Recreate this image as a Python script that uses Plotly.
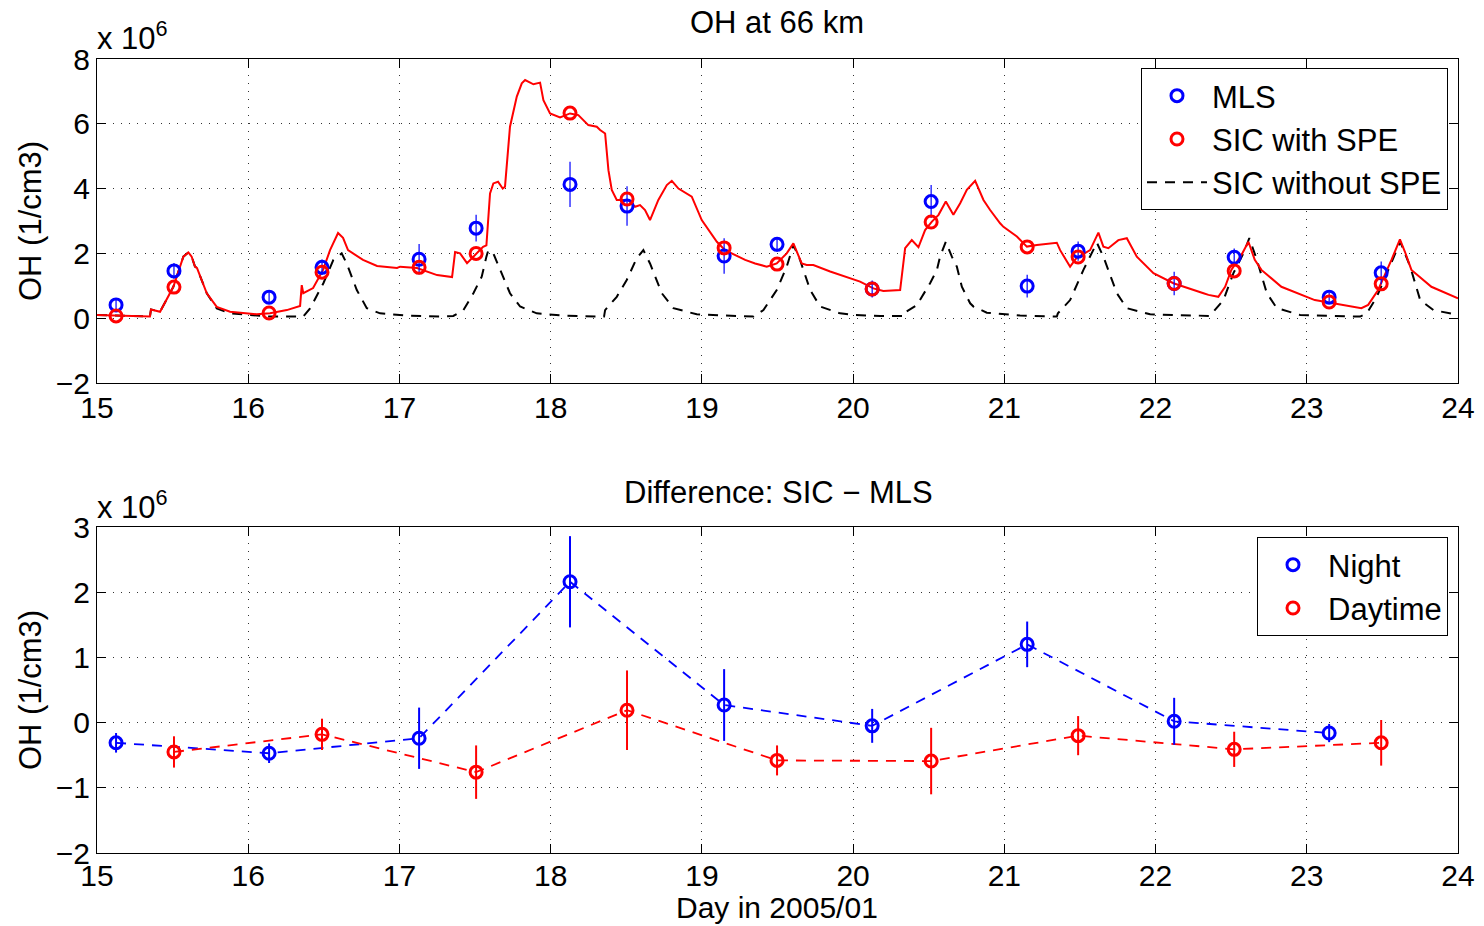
import plotly.graph_objects as go

W, H = 1484, 926
FONT = "Liberation Sans, Arial, Helvetica, sans-serif"
BLUE = "rgb(0,0,255)"
RED = "rgb(255,0,0)"

# ---- MLS overpasses (units: 1e6 / cm3) ----
night_days = [15.126, 16.138, 17.130, 18.128, 19.147, 20.126, 21.151, 22.123, 23.148]
day_days = [15.509, 16.488, 17.507, 18.505, 19.497, 20.516, 21.488, 22.520, 23.492]

mls_night = [0.41, 0.65, 1.82, 4.13, 1.92, 0.90, 0.99, 1.07, 0.65]
mls_day = [1.46, 1.57, 2.78, 3.46, 2.28, 3.60, 2.07, 1.88, 1.40]
err_night = [0.15, 0.15, 0.47, 0.70, 0.55, 0.26, 0.35, 0.36, 0.14]
err_day = [0.24, 0.24, 0.41, 0.61, 0.23, 0.51, 0.30, 0.27, 0.35]

# SIC values sampled at the MLS overpass times
sic_night = [0.07, 0.16, 1.57, 6.33, 2.17, 0.90, 2.20, 1.07, 0.50]
sic_day = [0.96, 1.42, 2.00, 3.68, 1.67, 2.97, 1.89, 1.46, 1.06]

# SIC - MLS differences
diff_night = [-0.31, -0.47, -0.24, 2.16, 0.27, -0.05, 1.20, 0.02, -0.16]
diff_day = [-0.45, -0.18, -0.76, 0.19, -0.58, -0.59, -0.20, -0.41, -0.31]

# ---- SIC model time series with SPE forcing ----
spe_days = [15.000, 15.350, 15.357, 15.417, 15.505, 15.571, 15.604, 15.626, 15.648, 15.661,
            15.726, 15.792, 15.880, 16.056, 16.144, 16.255, 16.343, 16.354, 16.364, 16.429,
            16.495, 16.541, 16.594, 16.627, 16.660, 16.693, 16.759, 16.852, 16.984, 17.004,
            17.116, 17.249, 17.348, 17.368, 17.401, 17.447, 17.513, 17.553, 17.575, 17.599,
            17.621, 17.652, 17.683, 17.698, 17.731, 17.776, 17.809, 17.831, 17.886, 17.930,
            17.952, 17.996, 18.062, 18.128, 18.183, 18.249, 18.305, 18.327, 18.360, 18.364,
            18.382, 18.404, 18.437, 18.514, 18.558, 18.591, 18.624, 18.657, 18.712, 18.768,
            18.801, 18.845, 18.933, 18.999, 19.043, 19.099, 19.153, 19.198, 19.286, 19.352,
            19.396, 19.429, 19.495, 19.561, 19.605, 19.638, 19.660, 19.693, 19.737, 19.848,
            19.958, 20.046, 20.134, 20.200, 20.311, 20.344, 20.388, 20.432, 20.476, 20.521,
            20.565, 20.613, 20.663, 20.708, 20.752, 20.807, 20.862, 20.906, 20.972, 20.994,
            21.083, 21.149, 21.215, 21.347, 21.369, 21.435, 21.476, 21.567, 21.622, 21.655,
            21.688, 21.754, 21.810, 21.876, 21.986, 22.118, 22.317, 22.350, 22.415, 22.460,
            22.501, 22.568, 22.614, 22.656, 22.700, 22.832, 23.053, 23.361, 23.406, 23.472,
            23.560, 23.616, 23.649, 23.692, 23.824, 24.000]
spe_oh = [0.10, 0.05, 0.27, 0.20, 0.97, 1.90, 2.03, 1.90, 1.59, 1.55,
          0.77, 0.35, 0.20, 0.12, 0.15, 0.25, 0.38, 1.02, 0.77, 0.93,
          1.49, 2.10, 2.63, 2.48, 2.10, 2.00, 1.80, 1.61, 1.55, 1.59,
          1.55, 1.33, 1.27, 2.04, 2.00, 1.70, 2.00, 2.20, 2.25, 3.85,
          4.16, 4.21, 4.00, 4.06, 5.91, 6.84, 7.25, 7.35, 7.22, 7.27,
          6.73, 6.32, 6.20, 6.32, 6.27, 5.96, 5.91, 5.81, 5.70, 5.50,
          4.57, 3.96, 3.65, 3.65, 3.44, 3.49, 3.34, 3.03, 3.65, 4.11,
          4.24, 4.00, 3.75, 3.03, 2.72, 2.36, 2.10, 2.00, 1.80, 1.69,
          1.64, 1.59, 1.69, 2.00, 2.31, 1.95, 1.69, 1.64, 1.64, 1.44,
          1.28, 1.13, 0.92, 0.84, 0.87, 2.16, 2.41, 2.19, 2.72, 2.98,
          3.19, 3.60, 3.19, 3.55, 3.96, 4.24, 3.65, 3.34, 2.93, 2.82,
          2.52, 2.21, 2.26, 2.33, 2.10, 1.59, 1.85, 2.10, 2.64, 2.21,
          2.16, 2.41, 2.47, 1.90, 1.39, 1.08, 0.77, 0.72, 0.66, 0.97,
          1.49, 1.95, 2.36, 1.80, 1.49, 0.97, 0.56, 0.31, 0.41, 0.87,
          1.80, 2.43, 2.05, 1.49, 0.97, 0.61]

# ---- SIC model time series without SPE forcing ----
nospe_days = [15.000, 15.350, 15.357, 15.417, 15.505, 15.571, 15.604, 15.626, 15.648, 15.661,
              15.726, 15.792, 15.880, 16.056, 16.144, 16.343, 16.364, 16.409, 16.497, 16.563,
              16.618, 16.651, 16.718, 16.784, 16.872, 17.048, 17.268, 17.356, 17.423, 17.489,
              17.544, 17.575, 17.588, 17.621, 17.677, 17.731, 17.798, 17.908, 18.084, 18.282,
              18.353, 18.360, 18.437, 18.503, 18.569, 18.613, 18.657, 18.735, 18.812, 18.966,
              19.187, 19.341, 19.407, 19.495, 19.561, 19.605, 19.649, 19.716, 19.782, 19.914,
              20.002, 20.134, 20.179, 20.344, 20.352, 20.421, 20.509, 20.554, 20.575, 20.613,
              20.653, 20.686, 20.719, 20.774, 20.796, 20.884, 21.104, 21.347, 21.354, 21.435,
              21.523, 21.612, 21.655, 21.744, 21.810, 21.964, 22.361, 22.383, 22.449, 22.515,
              22.581, 22.620, 22.670, 22.736, 22.802, 22.956, 23.353, 23.397, 23.463, 23.530,
              23.618, 23.684, 23.750, 23.838, 24.000]
nospe_oh = [0.10, 0.05, 0.27, 0.20, 0.97, 1.90, 2.03, 1.90, 1.59, 1.55,
            0.77, 0.30, 0.15, 0.07, 0.05, 0.05, 0.05, 0.30, 1.08, 1.80,
            2.00, 1.69, 0.87, 0.31, 0.15, 0.08, 0.05, 0.07, 0.25, 0.77,
            1.28, 1.90, 2.10, 2.00, 1.39, 0.77, 0.36, 0.15, 0.08, 0.05,
            0.05, 0.25, 0.66, 1.18, 1.85, 2.10, 1.69, 0.77, 0.31, 0.12,
            0.07, 0.05, 0.25, 0.87, 1.59, 2.26, 1.80, 0.87, 0.36, 0.15,
            0.10, 0.07, 0.07, 0.07, 0.20, 0.40, 1.08, 1.49, 1.90, 2.36,
            1.90, 1.59, 0.97, 0.46, 0.36, 0.17, 0.08, 0.05, 0.15, 0.56,
            1.49, 2.33, 1.90, 0.77, 0.31, 0.12, 0.07, 0.20, 0.56, 1.39,
            2.00, 2.47, 1.80, 0.77, 0.31, 0.10, 0.05, 0.15, 0.66, 1.39,
            2.36, 1.59, 0.56, 0.25, 0.10]

x_ticks = list(range(15, 25))
top_yticks = [-2, 0, 2, 4, 6, 8]
bot_yticks = [-2, -1, 0, 1, 2, 3]

TICK_SIZE = 30
TEXT_SIZE = 31
DASH = "10px,8px"


def px_x(p):
    return p / W


def px_y(p):
    return 1 - p / H


def open_marker(color):
    return dict(symbol="circle-open", size=12, color=color, line=dict(width=3, color=color))


fig = go.Figure()

# upper panel: model curves, then MLS and SIC sample points
fig.add_trace(go.Scatter(
    x=nospe_days, y=nospe_oh, mode="lines", name="SIC without SPE",
    line=dict(color="black", width=2, dash=DASH),
    xaxis="x", yaxis="y", legend="legend", legendrank=3))
fig.add_trace(go.Scatter(
    x=spe_days, y=spe_oh, mode="lines", showlegend=False,
    line=dict(color=RED, width=2), xaxis="x", yaxis="y"))
fig.add_trace(go.Scatter(
    x=night_days + day_days, y=mls_night + mls_day, mode="markers", name="MLS",
    marker=open_marker(BLUE),
    error_y=dict(type="data", array=err_night + err_day, width=0, thickness=1.2, color=BLUE),
    xaxis="x", yaxis="y", legend="legend", legendrank=1))
fig.add_trace(go.Scatter(
    x=night_days + day_days, y=sic_night + sic_day, mode="markers", name="SIC with SPE",
    marker=open_marker(RED),
    xaxis="x", yaxis="y", legend="legend", legendrank=2))

# lower panel: dashed connectors, then points with error bars
fig.add_trace(go.Scatter(
    x=night_days, y=diff_night, mode="lines", showlegend=False,
    line=dict(color=BLUE, width=1.8, dash=DASH), xaxis="x2", yaxis="y2"))
fig.add_trace(go.Scatter(
    x=day_days, y=diff_day, mode="lines", showlegend=False,
    line=dict(color=RED, width=1.8, dash=DASH), xaxis="x2", yaxis="y2"))
fig.add_trace(go.Scatter(
    x=night_days, y=diff_night, mode="markers", name="Night",
    marker=open_marker(BLUE),
    error_y=dict(type="data", array=err_night, width=0, thickness=2, color=BLUE),
    xaxis="x2", yaxis="y2", legend="legend2", legendrank=1))
fig.add_trace(go.Scatter(
    x=day_days, y=diff_day, mode="markers", name="Daytime",
    marker=open_marker(RED),
    error_y=dict(type="data", array=err_day, width=0, thickness=2, color=RED),
    xaxis="x2", yaxis="y2", legend="legend2", legendrank=2))

axis_common = dict(
    showline=True, linecolor="black", linewidth=1, mirror="ticks",
    ticks="inside", ticklen=9, tickcolor="black", tickwidth=1,
    showgrid=True, gridcolor="#333", gridwidth=1, griddash="1px,7px",
    zeroline=False, automargin=False,
    tickfont=dict(family=FONT, size=TICK_SIZE, color="black"),
)

legend_common = dict(
    xanchor="right", yanchor="top", bgcolor="white", bordercolor="black",
    borderwidth=1, itemwidth=60, tracegroupgap=0,
    font=dict(family=FONT, size=TEXT_SIZE, color="black"),
)

fig.update_layout(
    width=W, height=H, margin=dict(l=0, r=0, t=0, b=0, autoexpand=False),
    paper_bgcolor="white", plot_bgcolor="white",
    font=dict(family=FONT, size=TEXT_SIZE, color="black"),
    xaxis=dict(domain=[px_x(97), px_x(1458)], range=[15, 24], tickvals=x_ticks,
               anchor="y", ticklabelstandoff=-2, **axis_common),
    yaxis=dict(domain=[px_y(383), px_y(59)], range=[-2, 8], tickvals=top_yticks,
               anchor="x", **axis_common),
    xaxis2=dict(domain=[px_x(97), px_x(1458)], range=[15, 24], tickvals=x_ticks,
                anchor="y2", ticklabelstandoff=-4, **axis_common),
    yaxis2=dict(domain=[px_y(853), px_y(527)], range=[-2, 3], tickvals=bot_yticks,
                anchor="x2", **axis_common),
    legend=dict(x=px_x(1448), y=px_y(68), **legend_common),
    legend2=dict(x=px_x(1448), y=px_y(537), **legend_common),
    showlegend=True,
)

annotations = [
    dict(text="OH at 66 km", x=px_x(777), y=px_y(22)),
    dict(text="Difference: SIC \u2212 MLS", x=px_x(778), y=px_y(492)),
    dict(text="Day in 2005/01", x=px_x(777), y=0, yanchor="bottom", size=30),
    dict(text="OH (1/cm3)", x=px_x(30), y=px_y(221), textangle=-90),
    dict(text="OH (1/cm3)", x=px_x(30), y=px_y(690), textangle=-90),
    dict(text="x 10<sup>6</sup>", x=px_x(95), y=px_y(58), xanchor="left", yanchor="bottom"),
    dict(text="x 10<sup>6</sup>", x=px_x(95), y=px_y(527), xanchor="left", yanchor="bottom"),
]
for a in annotations:
    a.setdefault("xanchor", "center")
    a.setdefault("yanchor", "middle")
    size = a.pop("size", TEXT_SIZE)
    fig.add_annotation(xref="paper", yref="paper", showarrow=False,
                       font=dict(family=FONT, size=size, color="black"), **a)

fig.write_html("out.html")
